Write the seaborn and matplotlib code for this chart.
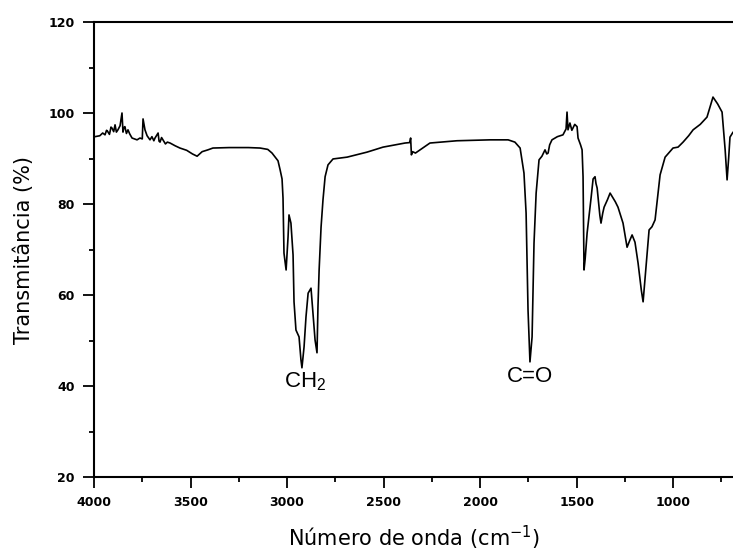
import numpy as np
import pandas as pd
import matplotlib
matplotlib.use("Agg")
import matplotlib.pyplot as plt
from matplotlib.ticker import MultipleLocator
import seaborn as sns

# FTIR spectrum (wavenumber in cm-1, transmittance in %)
wavenumber = [
    3995, 3970, 3955, 3943, 3935, 3930, 3920, 3912, 3907, 3898, 3891, 3884,
    3876, 3865, 3855, 3850, 3845, 3840, 3832, 3824, 3815, 3803, 3790, 3777,
    3762, 3750, 3746, 3741, 3736, 3725, 3710, 3700, 3690, 3684, 3668, 3663,
    3658, 3650, 3643, 3630, 3620, 3606, 3580, 3555, 3520, 3490, 3466, 3440,
    3410, 3384, 3300, 3200, 3140, 3100, 3078, 3047, 3036, 3026, 3021, 3016,
    3005, 2995, 2990, 2980, 2969, 2964, 2954, 2938, 2928, 2923, 2912, 2902,
    2891, 2876, 2866, 2855, 2845, 2840, 2834, 2824, 2814, 2803, 2788, 2762,
    2689, 2586, 2503, 2389, 2365, 2360, 2356, 2350, 2335, 2311, 2260, 2120,
    1949, 1855, 1820, 1793, 1773, 1762, 1752, 1742, 1731, 1721, 1710, 1695,
    1680, 1664, 1655, 1648, 1640, 1628, 1600, 1571, 1555, 1550, 1545, 1535,
    1525, 1510, 1498, 1493, 1480, 1472, 1467, 1462, 1456, 1446, 1425, 1415,
    1405, 1400, 1394, 1380, 1374, 1365, 1358, 1340, 1327, 1300, 1286, 1260,
    1239, 1225, 1213, 1198, 1182, 1165, 1156, 1141, 1125, 1110, 1094, 1068,
    1042, 1001, 975, 949, 920, 897, 860, 825, 794, 770, 747, 731,
    721, 713, 706, 690,
]
transmittance = [
    94.8, 95.0, 95.6, 95.2, 96.2, 96.0, 95.3, 96.9, 96.7, 95.9, 97.4, 95.8,
    96.3, 97.2, 100.0, 95.8, 96.8, 97.0, 95.5, 96.3, 95.4, 94.5, 94.3, 94.1,
    94.5, 94.3, 98.7, 97.5, 96.3, 95.0, 94.1, 94.8, 93.9, 94.5, 95.6, 93.8,
    93.6, 94.6, 94.1, 93.2, 93.6, 93.4, 92.8, 92.3, 91.8, 91.0, 90.5, 91.5,
    91.9, 92.3, 92.4, 92.4, 92.3, 92.0, 91.2, 89.5, 87.5, 85.5, 81.3, 69.2,
    65.5, 72.7, 77.6, 75.8, 68.8, 58.5, 52.3, 50.8, 45.7, 44.0, 48.6, 55.2,
    60.4, 61.5, 56.0, 50.1, 47.3, 57.4, 65.5, 74.9, 80.9, 86.0, 88.6, 89.9,
    90.3, 91.4, 92.5, 93.4, 93.5, 94.5, 90.8, 91.5, 91.2, 91.9, 93.4, 93.9,
    94.1, 94.1, 93.6, 92.3, 86.8, 78.0, 56.7, 45.3, 50.8, 71.4, 82.4, 89.7,
    90.5, 91.9, 91.0, 91.2, 93.0, 94.1, 94.8, 95.2, 96.5, 100.2, 96.3, 97.8,
    96.2, 97.5, 97.0, 94.5, 93.0, 91.9, 86.0, 65.5, 68.0, 73.6, 81.5, 85.5,
    86.0, 84.5, 83.5, 77.5, 75.8, 78.0, 79.3, 81.0, 82.4, 80.5, 79.3, 75.8,
    70.5, 72.0, 73.2, 71.6, 67.0, 61.0, 58.5, 66.2, 74.3, 75.0, 76.5, 86.4,
    90.3, 92.3, 92.5, 93.6, 95.0, 96.3, 97.5, 99.1, 103.5, 102.0, 100.2, 91.9,
    85.3, 90.0, 94.7, 95.8,
]

band_labels = [r"$\mathregular{CH_2}$", "C=O"]
band_x = [2907, 1742]
band_y = [41.0, 42.0]

df = pd.DataFrame({"wn": wavenumber, "T": transmittance})

sns.set_style("ticks")
plt.rcParams["font.family"] = ["DejaVu Sans"]
plt.rcParams.update({"text.color": "black", "axes.labelcolor": "black",
                     "xtick.color": "black", "ytick.color": "black"})

fig = plt.figure(figsize=(7.33, 5.52), dpi=100)
ax = fig.add_axes([94 / 733, 75 / 552, 641 / 733, 455 / 552])

sns.lineplot(data=df, x="wn", y="T", sort=False, estimator=None,
             color="black", linewidth=1.2, ax=ax)

ax.set_xlim(4000, 680)
ax.set_ylim(20, 120)
ax.xaxis.set_major_locator(MultipleLocator(500))
ax.xaxis.set_minor_locator(MultipleLocator(250))
ax.yaxis.set_major_locator(MultipleLocator(20))
ax.yaxis.set_minor_locator(MultipleLocator(10))
ax.tick_params(which="major", direction="out", length=8, width=1.3,
               labelsize=9, pad=6)
ax.tick_params(which="minor", direction="out", length=3.5, width=1.3)
for lbl in ax.get_xticklabels() + ax.get_yticklabels():
    lbl.set_fontweight("bold")

for s in ["left", "bottom", "top"]:
    ax.spines[s].set_linewidth(1.5)
    ax.spines[s].set_color("black")
ax.spines["right"].set_visible(False)
ax.spines["top"].set_visible(True)

ax.set_xlabel("Número de onda (cm$^{-1}$)", fontsize=15, labelpad=10)
ax.set_ylabel("Transmitância (%)", fontsize=15, labelpad=10)

for lab, x, y in zip(band_labels, band_x, band_y):
    ax.text(x, y, lab, ha="center", va="center", fontsize=16,
            family="Liberation Sans", color="black")

fig.savefig("out.png", dpi=100)
